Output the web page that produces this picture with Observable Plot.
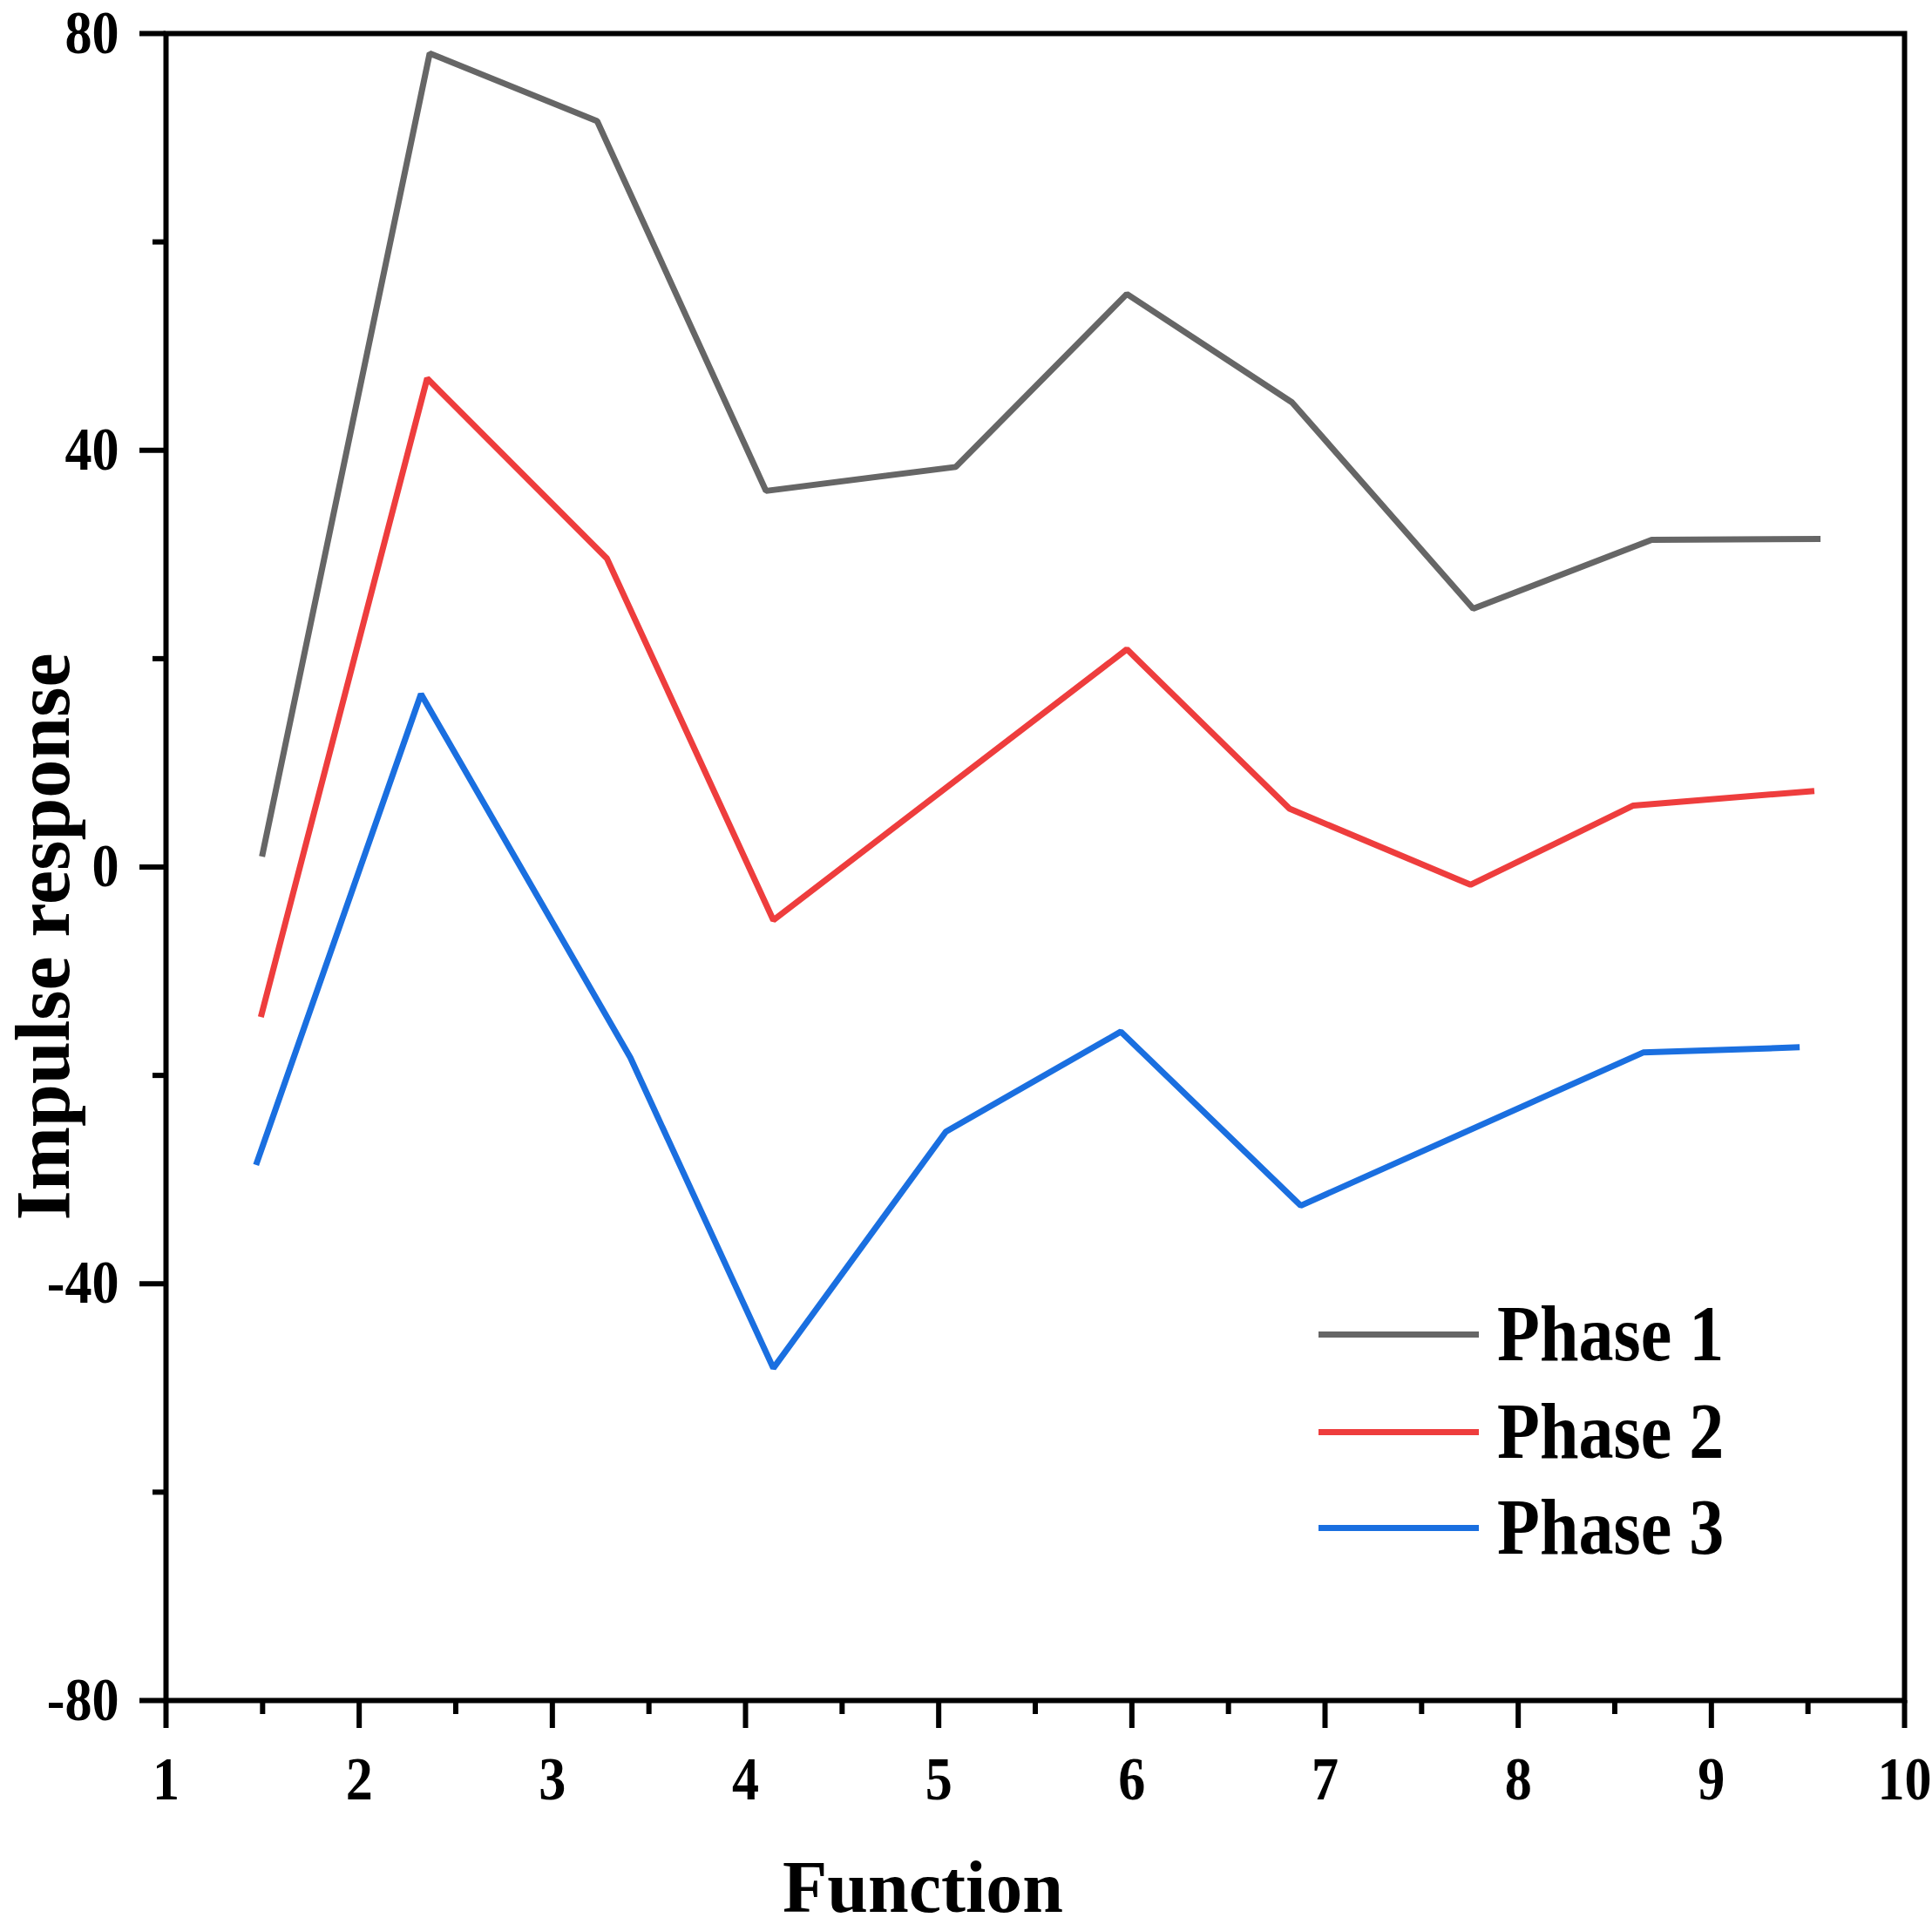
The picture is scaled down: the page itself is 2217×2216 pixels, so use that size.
<!DOCTYPE html>
<html>
<head>
<meta charset="utf-8">
<script src="https://cdn.jsdelivr.net/npm/d3@7"></script>
<script src="https://cdn.jsdelivr.net/npm/@observablehq/plot@0.6"></script>
<style>
  html, body { margin: 0; padding: 0; background: #fff; }
  #wrap { position: relative; width: 2217px; height: 2216px; font-family: "Liberation Serif", "Times New Roman", serif; font-weight: bold; }
  .leg { position: absolute; left: 1513px; display: flex; align-items: center; }
  .leg .sw { width: 184px; height: 7px; flex: none; }
  .leg .lab { margin-left: 21px; font-size: 90px; line-height: 1; color: #000; display: inline-block; transform: scaleX(0.89); transform-origin: left center; white-space: nowrap; }
</style>
</head>
<body>
<div id="wrap"></div>
<script>
const phases = ["Phase 1", "Phase 2", "Phase 3"];
const colors = ["#666666", "#ee3d3d", "#1a6fe0"];

const phase1X = [1.497, 2.365, 3.232, 4.106, 5.088, 5.974, 6.829, 7.767, 8.691, 9.565];
const phase1Y = [1.0, 78.1, 71.6, 36.1, 38.4, 55.0, 44.6, 24.8, 31.4, 31.5];
const phase2X = [1.491, 2.352, 3.283, 4.144, 5.974, 6.816, 7.753, 8.596, 9.533];
const phase2Y = [-14.4, 46.9, 29.6, -5.1, 20.9, 5.6, -1.7, 5.9, 7.3];
const phase3X = [1.466, 2.320, 3.404, 4.144, 5.037, 5.943, 6.874, 8.647, 9.457];
const phase3Y = [-28.6, 16.6, -18.3, -48.1, -25.4, -15.8, -32.5, -17.8, -17.3];

const xMajor = [1, 2, 3, 4, 5, 6, 7, 8, 9, 10];
const xMinor = [1.5, 2.5, 3.5, 4.5, 5.5, 6.5, 7.5, 8.5, 9.5];
const yMajor = [-80, -40, 0, 40, 80];
const yMinor = [-60, -20, 20, 60];

const data = [];
[[phase1X, phase1Y], [phase2X, phase2Y], [phase3X, phase3Y]].forEach(([xs, ys], i) => {
  xs.forEach((x, j) => data.push({phase: phases[i], x, y: ys[j]}));
});

const chart = Plot.plot({
  width: 2217,
  height: 2216,
  marginLeft: 190,
  marginRight: 32,
  marginTop: 38,
  marginBottom: 265,
  style: {fontFamily: "'Liberation Serif', 'Times New Roman', serif", fontWeight: "bold", background: "#fff", color: "#000"},
  x: {domain: [1, 10]},
  y: {domain: [-80, 80]},
  color: {domain: phases, range: colors},
  marks: [
    Plot.line(data, {x: "x", y: "y", z: "phase", stroke: "phase", strokeWidth: 7, strokeLinejoin: "miter", strokeLinecap: "butt"}),
    Plot.axisX({ticks: xMajor, tickSize: 32, tickPadding: 33, strokeWidth: 6, fontSize: 69, tickFormat: d => String(d), label: null}),
    Plot.axisX({ticks: xMinor, tickSize: 16, strokeWidth: 6, tickFormat: () => "", label: null}),
    Plot.axisY({ticks: yMajor, tickSize: 30, tickPadding: 24, strokeWidth: 6, fontSize: 69, tickFormat: d => String(d), label: null}),
    Plot.axisY({ticks: yMinor, tickSize: 15, strokeWidth: 6, tickFormat: () => "", label: null}),
    Plot.frame({stroke: "#000", strokeWidth: 6}),
    Plot.text(["Function"], {frameAnchor: "bottom", dx: -129, dy: 242, fontSize: 84, fontWeight: "bold", fill: "#000"}),
    Plot.text(["Impulse response"], {frameAnchor: "left", textAnchor: "middle", dx: -140, dy: 80, rotate: -90, fontSize: 88, fontWeight: "bold", fill: "#000"})
  ]
});

// slightly condense tick labels like the reference's narrow serif digits
d3.select(chart).selectAll('g[aria-label="x-axis tick label"] text, g[aria-label="y-axis tick label"] text').each(function() {
  const t = this.getAttribute("transform") || "";
  this.setAttribute("transform", (t + " scale(0.9,1)").trim());
});

const wrap = document.getElementById("wrap");
wrap.appendChild(chart);

const legTops = [1531, 1643, 1753];
phases.forEach((p, i) => {
  const row = document.createElement("div");
  row.className = "leg";
  row.style.top = (legTops[i] - 45) + "px";
  row.style.height = "90px";
  const sw = document.createElement("div");
  sw.className = "sw";
  sw.style.background = colors[i];
  const lab = document.createElement("span");
  lab.className = "lab";
  lab.textContent = p;
  row.appendChild(sw);
  row.appendChild(lab);
  wrap.appendChild(row);
});
</script>
</body>
</html>
